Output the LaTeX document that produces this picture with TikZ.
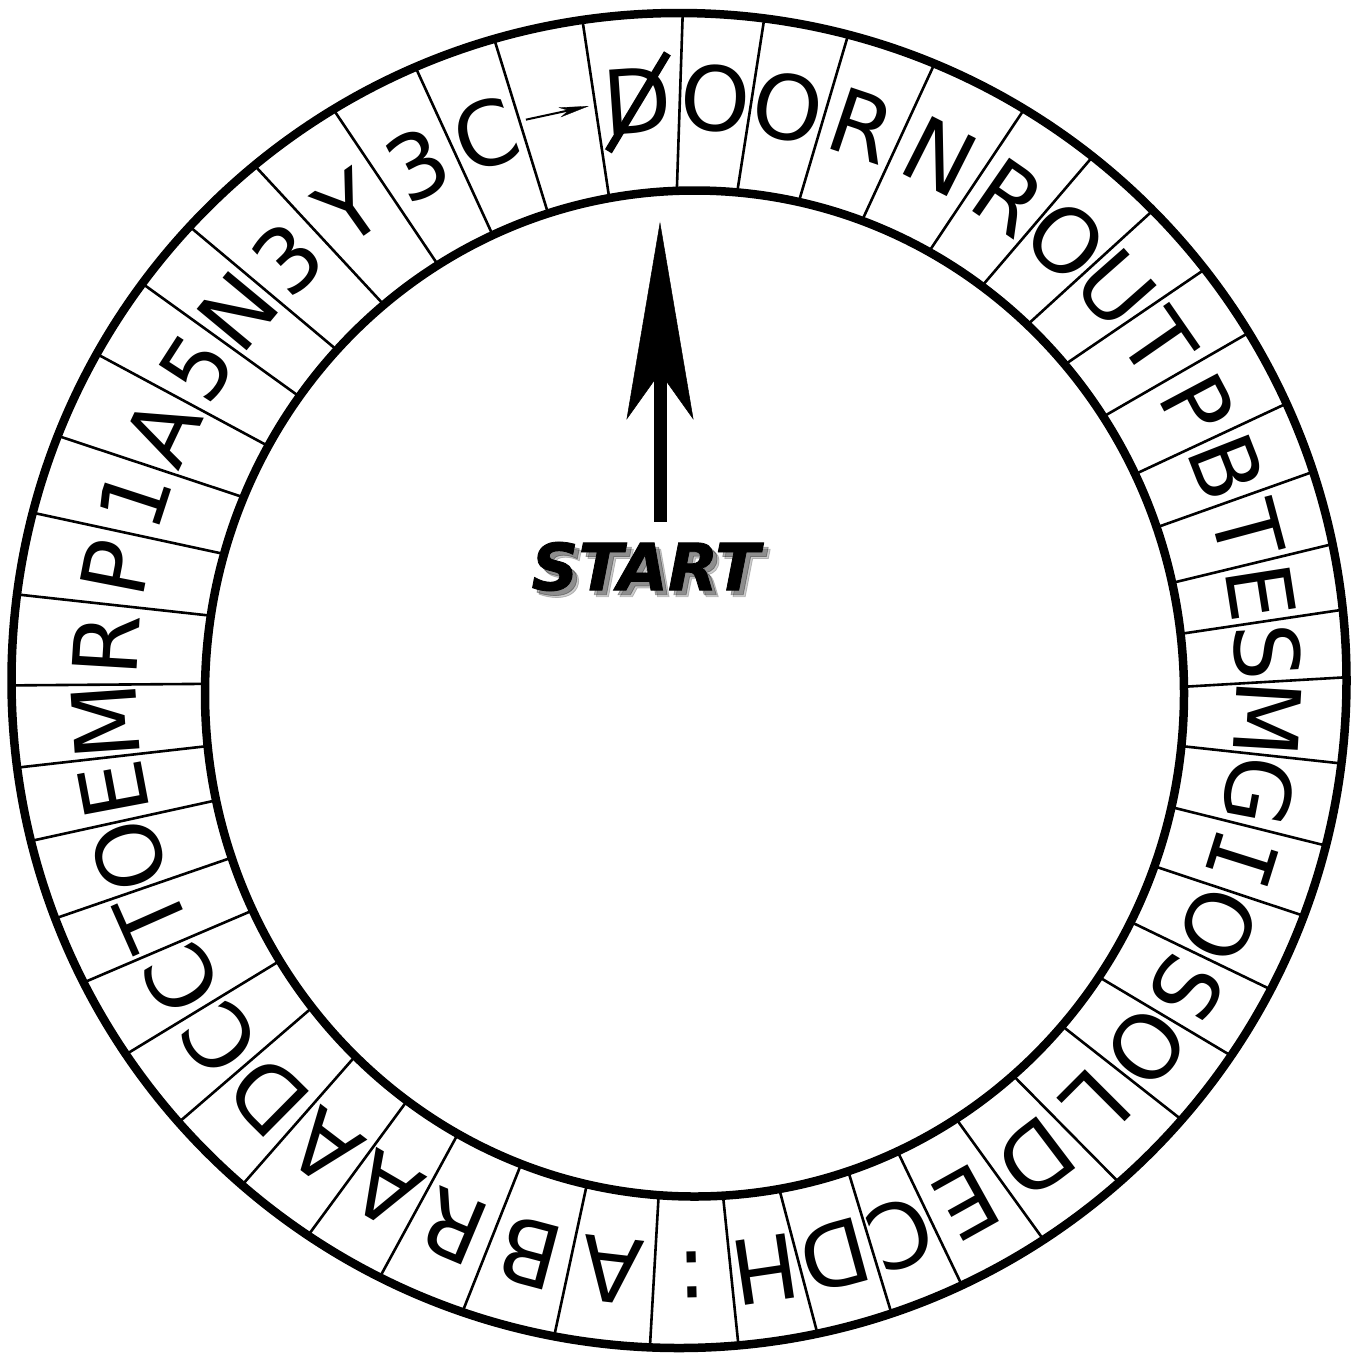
\documentclass[tikz,border=0pt]{standalone}
\usepackage{fontspec}
\usetikzlibrary{arrows.meta, calc}
\newfontfamily\ringfont{DejaVu Sans}
\newfontfamily\ringmono{DejaVu Sans Mono}
\newfontfamily\startfont{DejaVu Sans}[BoldItalicFeatures={FakeBold=1.2}]

\begin{document}
\begin{tikzpicture}[
    x=1pt, y=1pt,
    rim/.style={draw=black, line width=8.5pt},
    spoke/.style={draw=black, line width=2.6pt},
    glyph/.style={inner sep=0pt, font=\ringfont\fontsize{89pt}{89pt}\selectfont},
    pointer/.style={line width=13pt, -{Stealth[length=198pt, width=67pt, inset=47pt, line width=0.5pt]}},
    smallarrow/.style={line width=2pt, -{Stealth[length=30pt, width=10pt, inset=9pt, line width=0.3pt]}},
    startlabel/.style={inner sep=0pt, font=\startfont\bfseries\itshape\fontsize{65pt}{65pt}\selectfont}
]
\useasboundingbox (0,0) rectangle (1363,-1353);
\fill[white] (0,0) rectangle (1363,-1353);

% centres of the two rims
\coordinate (oc) at (679,-680.5);
\coordinate (ic) at (694.5,-693.5);

% spokes between the cells
\foreach \p/\q in {98.32/100.03, 89.68/92.07, 82.66/85.0, 75.32/77.71, 67.5/70.0,
    58.86/61.4, 51.71/54.06, 44.77/47.15, 38.03/40.84, 31.40/33.39,
    24.51/25.85, 18.22/19.28, 11.79/12.70, 6.09/6.81, 0.28/0.77,
    -7.14/-6.0, -14.32/-13.05, -20.64/-20.08, -27.57/-27.0, -34.2/-34.3,
    -41.15/-41.35, -48.77/-49.4, -56.9/-57.7, -64.93/-65.5, -71.44/-71.7,
    -78.03/-80.03, -84.89/-86.66, -92.5/-94.2, -100.78/-102.7, -108.93/-110.74,
    -116.63/-118.9, -123.76/-125.95, -130.89/-133.87, -138.55/-141.37, -145.94/-147.9,
    -153.1/-154.46, -159.12/-160.96, -166.09/-167.74, -172.5/-174.0, -179.58/-181.1,
    172.59/171.1, 165.44/163.9, 158.5/157.05, 150.71/150.54, 143.51/143.82,
    137.15/136.93, 129.49/129.39, 121.18/121.59, 113.25/114.34, 106.07/107.4}
    \draw[spoke] ($(oc)+(\p:667.5)$) -- ($(ic)+(\q:489.5 and 503)$);

% the two rims
\draw[rim] (oc) circle[radius=667.5];
\draw[rim] (ic) ellipse[x radius=489.5, y radius=503];

% letters, clockwise from the top
\foreach \p/\q/\t [count=\k] in {86.17/88.54/O, 78.99/81.36/O, 71.41/73.86/R,
    63.18/65.7/N, 55.29/57.73/R, 48.24/50.61/O, 41.4/44.0/U, 34.72/37.12/T,
    27.96/29.62/P, 21.37/22.57/B, 15.01/15.99/T, 8.94/9.76/E, 3.19/3.79/S,
    -3.43/-2.62/M, -10.73/-9.53/G, -17.48/-16.57/{\ringmono I}, -24.11/-23.54/O,
    -30.89/-30.65/S, -37.68/-37.83/O, -44.96/-45.38/L, -52.84/-53.55/D,
    -60.92/-61.6/E, -68.19/-68.6/C, -74.74/-75.87/D, -81.46/-83.35/H,
    -88.7/-90.43/:, -96.64/-98.45/A, -104.86/-106.72/B, -112.78/-114.82/R,
    -120.2/-122.43/A, -127.33/-129.91/A, -134.72/-137.62/D, -142.25/-144.64/C,
    -149.52/-151.18/C, -156.11/-157.71/T, -162.61/-164.35/O, -169.3/-170.87/E,
    -176.04/-177.55/M, 176.5/175.0/R, 169.02/167.5/P, 161.97/160.48/1,
    154.61/153.8/A, 147.11/147.18/5, 140.33/140.38/N, 133.32/133.16/3,
    125.34/125.49/Y, 117.22/117.97/3, 109.66/110.87/C}
{
    \coordinate (o\k) at ($(oc)+(\p:663.5)$);
    \coordinate (i\k) at ($(ic)+(\q:494 and 507.5)$);
    \node[glyph, rotate=\p-90] (g\k) at ($(i\k)!0.52!(o\k)$) {\t};
}

% slashed D at the top
\coordinate (o0) at ($(oc)+(94.0:663.5)$);
\coordinate (i0) at ($(ic)+(96.05:494 and 507.5)$);
\node[glyph, rotate=4] (zero) at ($(i0)!0.52!(o0)$) {D};
\draw[line width=8pt] ([shift={(-29,-51)}]zero.center) -- ([shift={(30,47)}]zero.center);

% small arrow cell
\coordinate (oa) at ($(oc)+(102.2:663.5)$);
\coordinate (ia) at ($(ic)+(103.7:494 and 507.5)$);
\node[rotate=12.2, minimum width=64pt, inner sep=0pt] (arr) at ($(ia)!0.52!(oa)$) {};
\draw[smallarrow] (arr.west) -- (arr.east);

% start pointer
\coordinate (tip) at (660,-221.7);
\coordinate (tail) at (660,-521.7);
\draw[pointer] (tail) -- (tip);

\node[startlabel, text=black, opacity=.2] (startshade) at (652,-573) {START};
\node[startlabel, text=black, opacity=.3] (startshadow) at (650,-571) {START};
\node[startlabel] (start) at (645.5,-566.5) {START};

\end{tikzpicture}
\end{document}
